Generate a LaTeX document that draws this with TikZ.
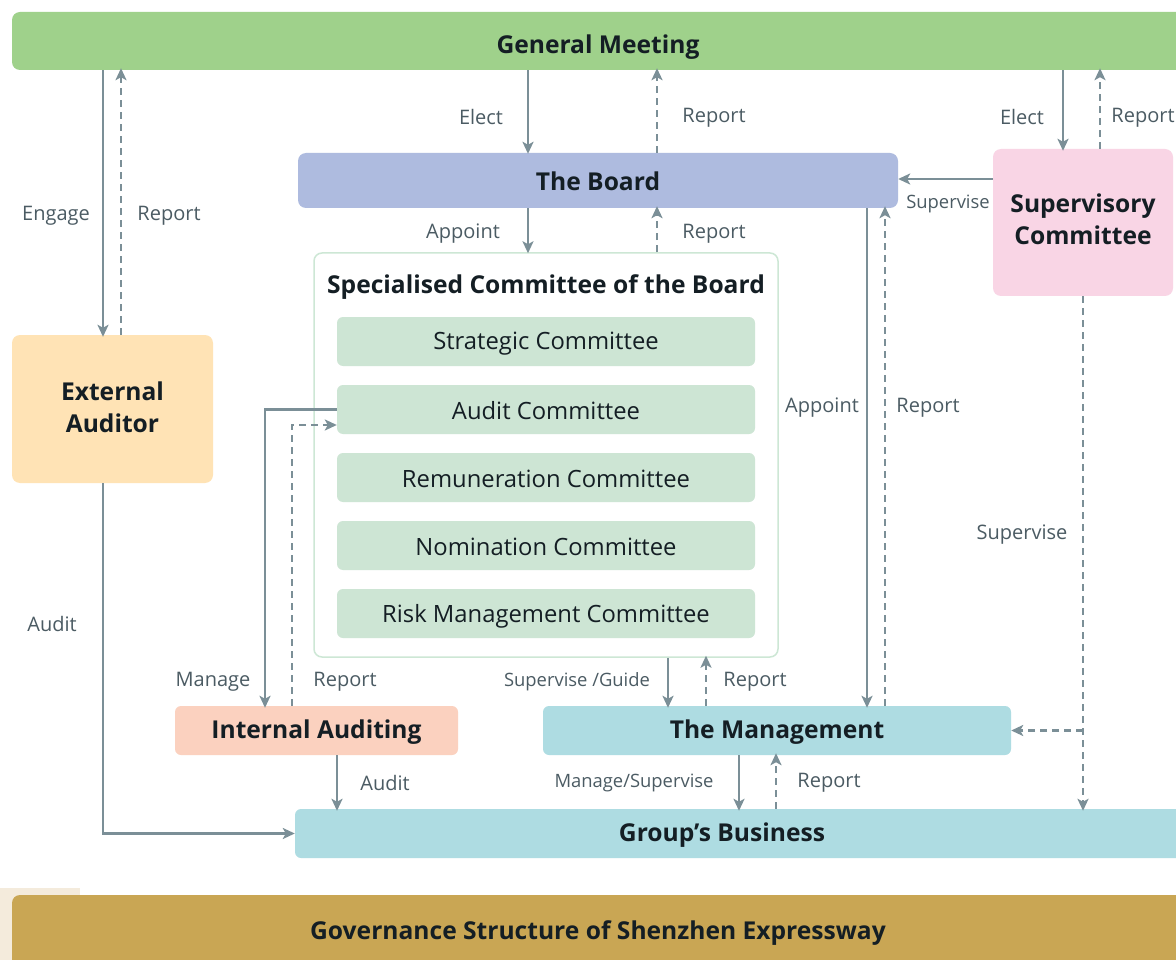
\documentclass[tikz,border=0pt]{standalone}
\usepackage{fontspec}
\setmainfont{Open Sans}
\usetikzlibrary{arrows.meta,calc}
\definecolor{gmc}{HTML}{9FD18B}
\definecolor{boardc}{HTML}{AEBBDF}
\definecolor{supc}{HTML}{F9D5E5}
\definecolor{specb}{HTML}{CDE7D5}
\definecolor{subc}{HTML}{CDE5D4}
\definecolor{extc}{HTML}{FFE3B5}
\definecolor{iac}{HTML}{FBD1BF}
\definecolor{mgc}{HTML}{AEDCE2}
\definecolor{banc}{HTML}{C9A654}
\definecolor{fadec}{HTML}{F4EBDC}
\definecolor{arrc}{HTML}{7B8F97}
\definecolor{lblc}{HTML}{4B5B63}
\definecolor{hdc}{HTML}{141E24}
\tikzset{
  box/.style={rectangle, rounded corners=8pt, inner sep=0pt, draw=none},
  hd/.style={text=hdc, font=\fontsize{24.6}{32}\selectfont\bfseries, align=center, yshift=-1.5pt},
  subtxt/.style={text=hdc, font=\fontsize{23.8}{28}\selectfont, yshift=-1.5pt},
  lbl/.style={text=lblc, font=\fontsize{20}{24}\selectfont, inner sep=0pt, yshift=-2pt},
  slbl/.style={text=lblc, font=\fontsize{18.4}{22}\selectfont, inner sep=0pt, yshift=-2pt},
  sol/.style={draw=arrc, line width=2.7pt, -{Stealth[length=12pt,width=11pt,inset=3pt]}},
  das/.style={sol, dash pattern=on 7pt off 5pt}
}
\begin{document}
\begin{tikzpicture}[x=1pt,y=-1pt]
\useasboundingbox (0,0) rectangle (1176,960);
\fill[white] (0,0) rectangle (1176,960);
\fill[fadec] (0,888) rectangle (80,960);
% boxes
\node[box, fill=gmc, minimum width=1172pt, minimum height=58pt] (gm) at (598,41) {};
\node[hd] (gmt) at (598,46) {General Meeting};
\node[box, fill=boardc, minimum width=600pt, minimum height=55pt] (board) at (598,180.5) {};
\node[hd] (boardt) at (598,180) {The Board};
\node[box, fill=supc, minimum width=180pt, minimum height=147pt] (sup) at (1083,222.5) {};
\node[hd] (supt) at (1083,218) {Supervisory\\Committee};
\node[box, draw=specb, line width=1.5pt, fill=white, minimum width=464pt, minimum height=404pt] (spec) at (546,455) {};
\node[hd] (spect) at (546,285.5) {Specialised Committee of the Board};
\node[box, rounded corners=6pt, fill=subc, minimum width=418pt, minimum height=49pt] (strat) at (546,341.5) {};
\node[subtxt] at (546,342) {Strategic Committee};
\node[box, rounded corners=6pt, fill=subc, minimum width=418pt, minimum height=49pt] (audit) at (546,409.5) {};
\node[subtxt] at (546,409.5) {Audit Committee};
\node[box, rounded corners=6pt, fill=subc, minimum width=418pt, minimum height=49pt] (remu) at (546,477.5) {};
\node[subtxt] at (546,477.5) {Remuneration Committee};
\node[box, rounded corners=6pt, fill=subc, minimum width=418pt, minimum height=49pt] (nomi) at (546,545.5) {};
\node[subtxt] at (546,545.5) {Nomination Committee};
\node[box, rounded corners=6pt, fill=subc, minimum width=418pt, minimum height=49pt] (risk) at (546,613.5) {};
\node[subtxt] at (546,614.5) {Risk Management Committee};
\node[box, fill=extc, minimum width=201pt, minimum height=148pt] (ext) at (112.5,409) {};
\node[hd] (extt) at (112.5,406) {External\\Auditor};
\node[box, rounded corners=6pt, fill=iac, minimum width=283pt, minimum height=49pt] (ia) at (316.5,730.5) {};
\node[hd] (iat) at (316.5,731) {Internal Auditing};
\node[box, rounded corners=6pt, fill=mgc, minimum width=468pt, minimum height=49pt] (mgmt) at (777,730.5) {};
\node[hd] (mgmtt) at (777,731) {The Management};
\node[box, rounded corners=6pt, fill=mgc, minimum width=895pt, minimum height=49pt] (gb) at (742.5,833.5) {};
\node[hd] (gbt) at (722,834) {Group’s Business};
\node[box, fill=banc, minimum width=1180pt, minimum height=80pt] (ban) at (602,935) {};
\node[hd] (bant) at (598,932) {Governance Structure of Shenzhen Expressway};
% column coordinates
\coordinate (xa) at (103,0);
\coordinate (xb) at (121,0);
\coordinate (xc) at (528,0);
\coordinate (xd) at (657,0);
\coordinate (xe) at (1063,0);
\coordinate (xf) at (1100,0);
\coordinate (xg) at (867,0);
\coordinate (xh) at (885,0);
\coordinate (xi) at (1083,0);
\coordinate (xj) at (265,0);
\coordinate (xk) at (292,0);
\coordinate (xl) at (668,0);
\coordinate (xm) at (706,0);
\coordinate (xn) at (739,0);
\coordinate (xo) at (776,0);
\coordinate (xp) at (337,0);
\coordinate (r425) at (0,425);
\coordinate (r179) at (0,179);
\coordinate (br) at (1083,730.5);
% connectors
\draw[sol] (gm.south -| xa) -- ([yshift=-2pt]ext.north -| xa);
\draw[das] (ext.north -| xb) -- ([yshift=2pt]gm.south -| xb);
\draw[sol] (gm.south -| xc) -- ([yshift=-1pt]board.north -| xc);
\draw[das] (board.north -| xd) -- ([yshift=2pt]gm.south -| xd);
\draw[sol] (gm.south -| xe) -- ([yshift=-2pt]sup.north -| xe);
\draw[das] (sup.north -| xf) -- ([yshift=2pt]gm.south -| xf);
\draw[sol] (sup.west |- r179) -- (board.east |- r179);
\draw[sol] (board.south -| xc) -- ([yshift=-1pt]spec.north -| xc);
\draw[das] (spec.north -| xd) -- ([yshift=2pt]board.south -| xd);
\draw[sol] (board.south -| xg) -- ([yshift=-2pt]mgmt.north -| xg);
\draw[das] (mgmt.north -| xh) -- ([yshift=2pt]board.south -| xh);
\draw[das] (sup.south -| xi) -- ([yshift=-2pt]gb.north -| xi);
\draw[das] (br) -- (mgmt.east);
\draw[sol] (audit.west) -| ([yshift=-2pt]ia.north -| xj);
\draw[das] (ia.north -| xk) |- (audit.west |- r425);
\draw[sol] (spec.south -| xl) -- ([yshift=-2pt]mgmt.north -| xl);
\draw[das] (mgmt.north -| xm) -- ([yshift=2pt]spec.south -| xm);
\draw[sol] (mgmt.south -| xn) -- ([yshift=-2pt]gb.north -| xn);
\draw[das] (gb.north -| xo) -- ([yshift=2pt]mgmt.south -| xo);
\draw[sol] (ia.south -| xp) -- ([yshift=-2pt]gb.north -| xp);
\draw[sol] (ext.south -| xa) |- (gb.west);
% labels
\node[lbl] (l1) at (56,214) {Engage};
\node[lbl] (l2) at (169,214) {Report};
\node[lbl] (l3) at (481,115) {Elect};
\node[lbl] (l4) at (714,116) {Report};
\node[lbl] (l5) at (1022,115) {Elect};
\node[lbl] (l6) at (1143,116) {Report};
\node[slbl] (l7) at (948,202) {Supervise};
\node[lbl] (l8) at (463,232) {Appoint};
\node[lbl] (l9) at (714,232) {Report};
\node[lbl] (l10) at (822,406) {Appoint};
\node[lbl] (l11) at (928,406) {Report};
\node[lbl] (l12) at (1022,533) {Supervise};
\node[lbl] (l13) at (52,622) {Audit};
\node[lbl] (l14) at (213,680) {Manage};
\node[lbl] (l15) at (345,680) {Report};
\node[slbl] (l16) at (577,680) {Supervise /Guide};
\node[lbl] (l17) at (755,680) {Report};
\node[lbl] (l18) at (385,781) {Audit};
\node[slbl] (l19) at (634,781) {Manage/Supervise};
\node[lbl] (l20) at (829,781) {Report};
\end{tikzpicture}
\end{document}
